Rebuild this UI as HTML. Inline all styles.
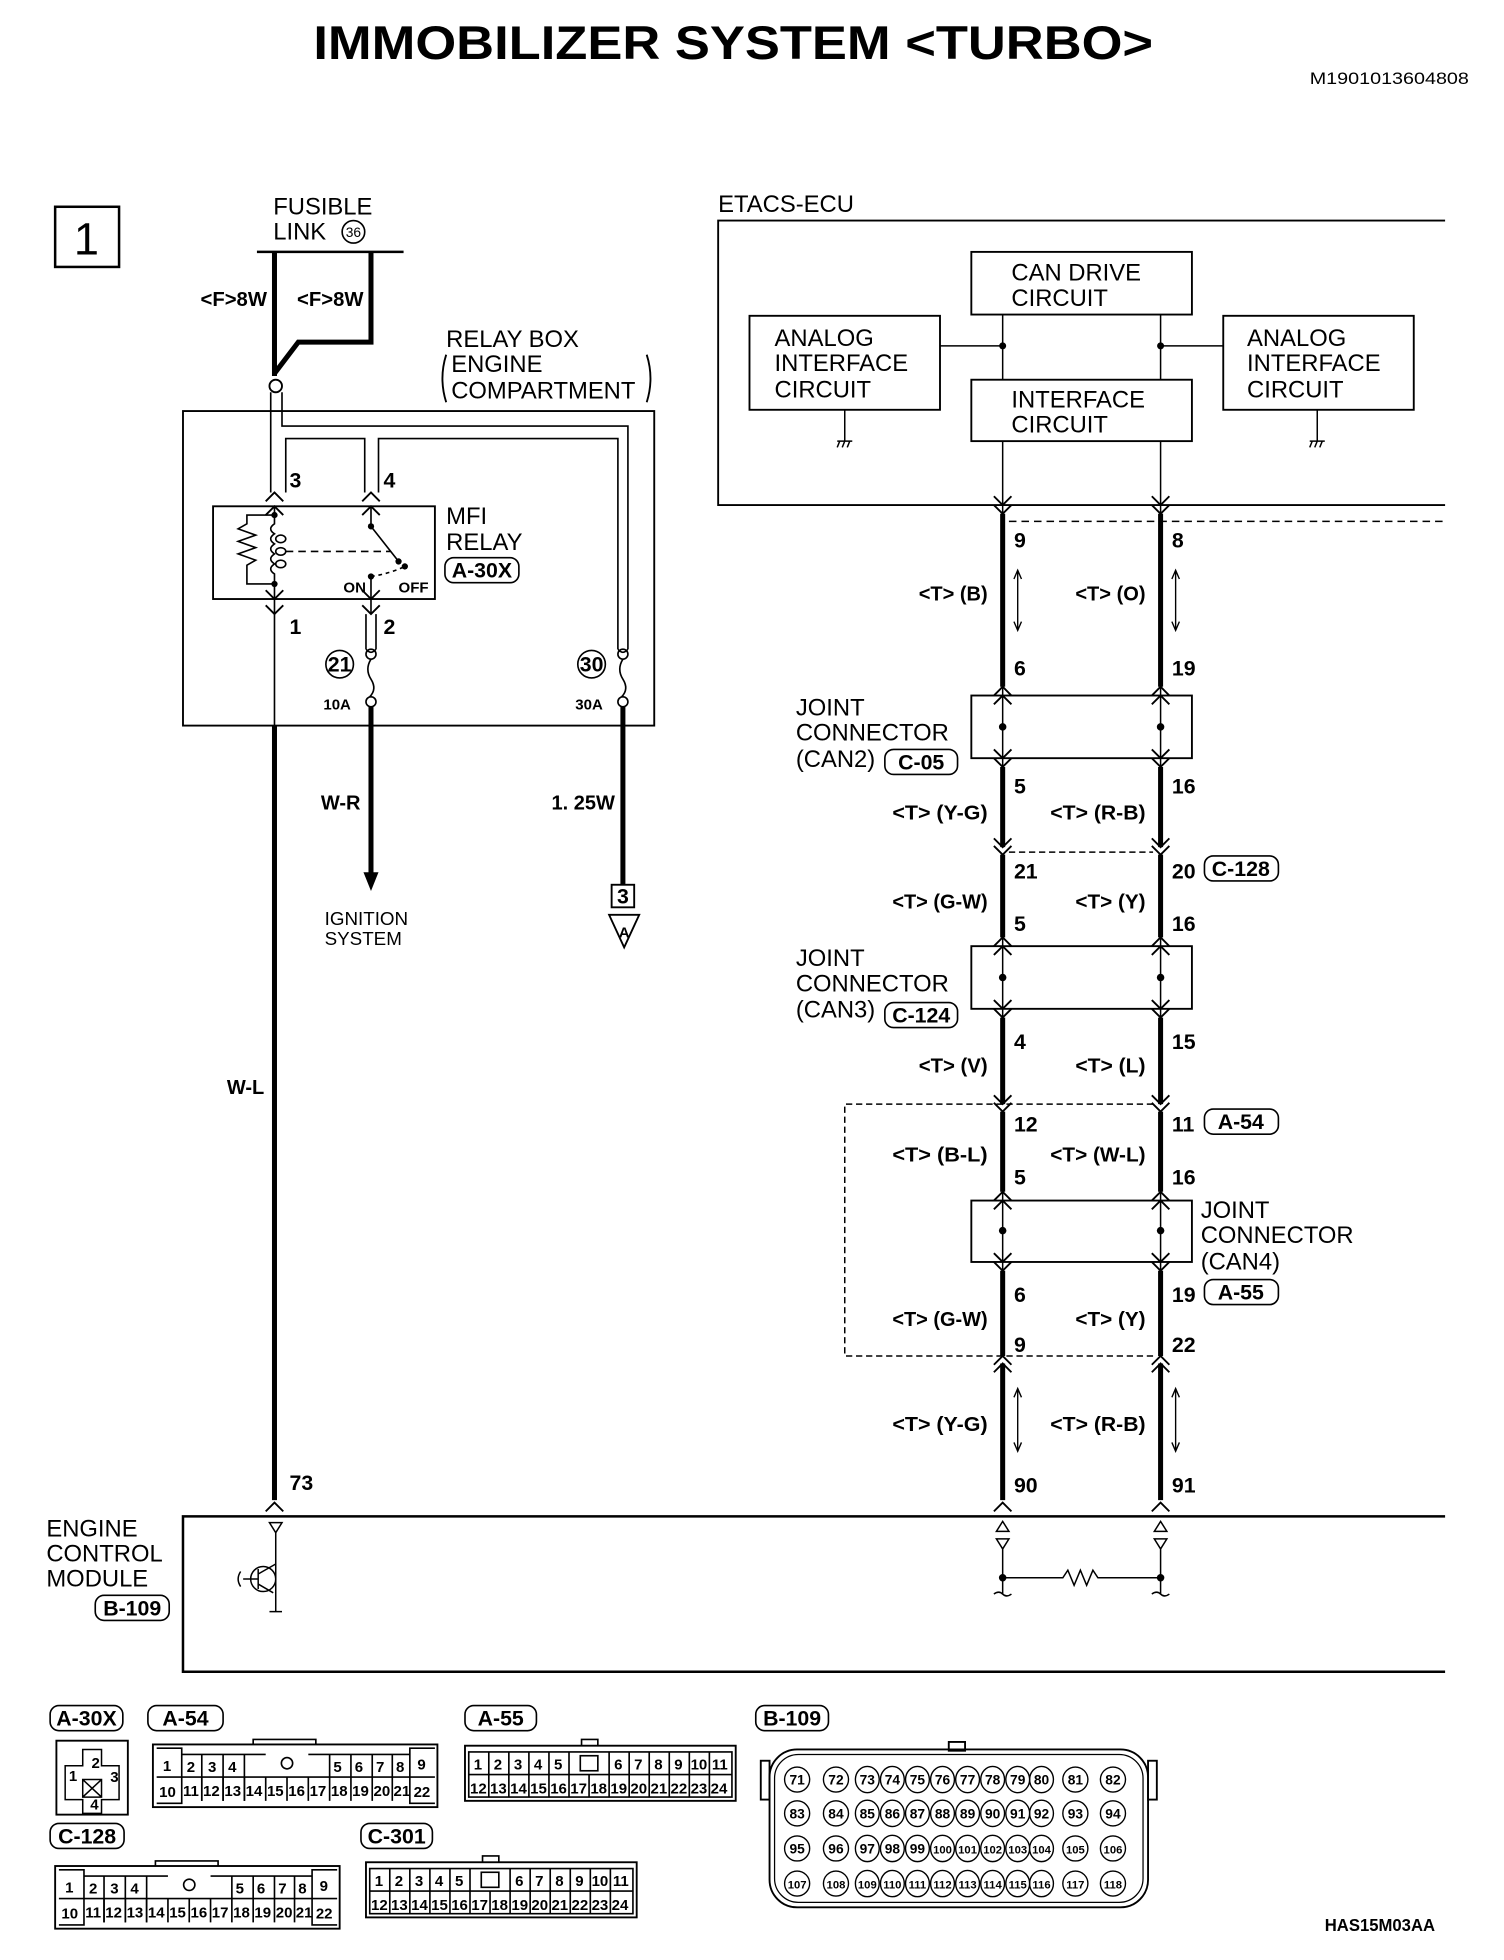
<!DOCTYPE html>
<html><head><meta charset="utf-8"><style>
html,body{margin:0;padding:0;background:#fff;}
svg{display:block;}
text{font-family:"Liberation Sans",sans-serif;fill:#000;}
.b{font-weight:bold;}
.n{font-size:19px;}
.w{font-size:16px;font-weight:bold;}
.p{font-size:17px;font-weight:bold;}
.s{font-size:12px;font-weight:bold;}
</style></head><body>
<svg width="1504" height="1960" viewBox="0 0 1200 1564" preserveAspectRatio="none" xmlns="http://www.w3.org/2000/svg">
<defs>
<path id="cu" d="M-7,7 L0,0 L7,7" fill="none" stroke="#000" stroke-width="1.5"/>
<path id="cd" d="M-7,-7 L0,0 L7,-7" fill="none" stroke="#000" stroke-width="1.5"/>
<g id="brow" fill="none" stroke="#000" stroke-width="1.1">
<circle cx="636" cy="0" r="10"/><circle cx="667" cy="0" r="10"/>
<ellipse cx="692" cy="0" rx="9.5" ry="10.5"/><ellipse cx="712" cy="0" rx="9.5" ry="10.5"/><ellipse cx="732" cy="0" rx="9.5" ry="10.5"/><ellipse cx="752" cy="0" rx="9.5" ry="10.5"/><ellipse cx="772" cy="0" rx="9.5" ry="10.5"/><ellipse cx="792" cy="0" rx="9.5" ry="10.5"/><ellipse cx="812" cy="0" rx="9.5" ry="10.5"/><ellipse cx="831" cy="0" rx="9.5" ry="10.5"/>
<circle cx="858" cy="0" r="10"/><circle cx="888" cy="0" r="10"/>
</g>
</defs>
<text x="250" y="47" class="b" font-size="38" textLength="670" lengthAdjust="spacingAndGlyphs">IMMOBILIZER SYSTEM &lt;TURBO&gt;</text>
<text x="1045" y="67" font-size="13" textLength="127" lengthAdjust="spacingAndGlyphs">M1901013604808</text>

<rect x="44" y="165" width="51" height="48" fill="none" stroke="#000" stroke-width="2"/>
<text x="69" y="203" font-size="36" text-anchor="middle">1</text>

<text x="218" y="171" class="n">FUSIBLE</text>
<text x="218" y="191" class="n">LINK</text>
<circle cx="282" cy="185" r="9" fill="none" stroke="#000" stroke-width="1.3"/>
<text x="282" y="189" font-size="11" text-anchor="middle">36</text>
<line x1="205" y1="201" x2="322" y2="201" stroke="#000" stroke-width="2"/>
<path d="M219,201 V300 M296,201 V273 H238 L219,298" fill="none" stroke="#000" stroke-width="4"/>
<text x="160" y="244" class="w" textLength="53" lengthAdjust="spacingAndGlyphs">&lt;F&gt;8W</text>
<text x="237" y="244" class="w" textLength="53" lengthAdjust="spacingAndGlyphs">&lt;F&gt;8W</text>
<circle cx="220" cy="308" r="5" fill="#fff" stroke="#000" stroke-width="1.5"/>

<text x="356" y="277" class="n">RELAY BOX</text>
<text x="360" y="297" class="n">ENGINE</text>
<text x="360" y="318" class="n">COMPARTMENT</text>
<path d="M356,283 Q350,302 356,321 M516,283 Q522,302 516,321" fill="none" stroke="#000" stroke-width="1.5"/>

<rect x="146" y="328" width="376" height="251" fill="none" stroke="#000" stroke-width="1.5"/>
<g fill="none" stroke="#000" stroke-width="1.3">
<path d="M216,313 V393"/>
<path d="M225,313 V340 H501 V518"/>
<path d="M228,393 V350 H291 V393"/>
<path d="M302,393 V350 H493 V518"/>
<path d="M493,518 Q497,523 501,518"/>
</g>
<use href="#cu" x="219" y="393"/><use href="#cu" x="219" y="404"/>
<use href="#cu" x="296" y="393"/><use href="#cu" x="296" y="404"/>
<text x="231" y="389" class="p">3</text>
<text x="306" y="389" class="p">4</text>
<rect x="170" y="404" width="177" height="74" fill="none" stroke="#000" stroke-width="1.5"/>
<g fill="none" stroke="#000" stroke-width="1.3">
<path d="M219,404 V411 M219,466 V490"/>
<path d="M219,411 H197 V418 l-7,4 l14,5 l-14,5 l14,5 l-14,5 l14,5 l-7,4 V466 H219"/>
<path d="M219,411 V418 q-6,4 0,8 q-6,4 0,8 q-6,4 0,8 q-6,4 0,8 q-6,4 0,8 V466"/>
<ellipse cx="224" cy="430" rx="4" ry="3"/><ellipse cx="224" cy="440" rx="4" ry="3"/><ellipse cx="224" cy="450" rx="4" ry="3"/>
<path d="M228,440 H312" stroke-dasharray="6,4"/>
<path d="M296,404 V420 L318,448"/>
<path d="M296,460 Q310,458 323,452" stroke-dasharray="3,3"/>
<path d="M296,460 V490"/>
</g>
<circle cx="219" cy="411" r="2.5"/><circle cx="219" cy="466" r="2.5"/>
<circle cx="296" cy="420" r="2.5"/><circle cx="318" cy="448" r="2.5"/><circle cx="323" cy="452" r="2.5"/><circle cx="296" cy="460" r="2.5"/>
<text x="274" y="473" class="s" font-size="14">ON</text>
<text x="318" y="473" class="s" font-size="14">OFF</text>
<text x="356" y="418" class="n">MFI</text>
<text x="356" y="439" class="n">RELAY</text>
<rect x="355" y="445" width="59" height="20" rx="7" fill="none" stroke="#000" stroke-width="1.3"/>
<text x="384.5" y="461" class="p" font-size="15" text-anchor="middle">A-30X</text>
<use href="#cd" x="219" y="478"/><use href="#cd" x="219" y="490"/>
<use href="#cd" x="296" y="478"/><use href="#cd" x="296" y="490"/>
<text x="231" y="506" class="p">1</text>
<text x="306" y="506" class="p">2</text>
<g fill="none" stroke="#000" stroke-width="1.3">
<path d="M292,490 V518 M300,490 V518 M292,518 Q296,523 300,518"/>
<circle cx="296" cy="522" r="4"/><circle cx="296" cy="560" r="4"/>
<path d="M296,526 q-5,8 0,16 q5,8 -1,14"/>
<circle cx="497" cy="522" r="4"/><circle cx="497" cy="560" r="4"/>
<path d="M497,526 q-5,8 0,16 q5,8 -1,14"/>
<circle cx="271" cy="530" r="11"/><circle cx="472" cy="530" r="11"/>
<path d="M219,490 V579"/>
</g>
<text x="271" y="536" class="p" font-size="15" text-anchor="middle">21</text>
<text x="472" y="536" class="p" font-size="15" text-anchor="middle">30</text>
<text x="258" y="566" class="s" font-size="14">10A</text>
<text x="459" y="566" class="s" font-size="14">30A</text>

<path d="M219,579 V1197 M296,564 V697 M497,564 V706" fill="none" stroke="#000" stroke-width="4"/>
<path d="M290,696 L302,696 L296,711 Z" fill="#000"/>
<text x="256" y="646" class="w">W-R</text>
<text x="440" y="646" class="w">1. 25W</text>
<text x="259" y="738" font-size="15">IGNITION</text>
<text x="259" y="754" font-size="15">SYSTEM</text>
<rect x="488" y="706" width="18" height="18" fill="none" stroke="#000" stroke-width="1.5"/>
<text x="497" y="721" class="p" font-size="15" text-anchor="middle">3</text>
<path d="M486,730 H510 L498,756 Z" fill="none" stroke="#000" stroke-width="1.5"/>
<text x="498" y="748" class="s" font-size="12" text-anchor="middle">A</text>
<text x="181" y="873" class="w">W-L</text>
<use href="#cu" x="219" y="1199"/>
<text x="231" y="1189" class="p">73</text>

<text x="573" y="169" class="n">ETACS-ECU</text>
<path d="M1153,176 H573 V403 H1153" fill="none" stroke="#000" stroke-width="1.5"/>
<g fill="none" stroke="#000" stroke-width="1.5">
<rect x="775" y="201" width="176" height="50"/>
<rect x="775" y="303" width="176" height="49"/>
<rect x="598" y="252" width="152" height="75"/>
<rect x="976" y="252" width="152" height="75"/>
</g>
<g fill="none" stroke="#000" stroke-width="1.2">
<path d="M800,251 V303 M926,251 V303 M750,276 H800 M926,276 H976 M674,327 V352 M1051,327 V352"/>
<path d="M668,352 H680 M670,352 l-2,5 M674,352 l-2,5 M678,352 l-2,5 M1045,352 H1057 M1047,352 l-2,5 M1051,352 l-2,5 M1055,352 l-2,5"/>
<path d="M800,352 V410 M926,352 V410"/>
</g>
<circle cx="800" cy="276" r="2.8"/><circle cx="926" cy="276" r="2.8"/>
<text x="807" y="224" class="n">CAN DRIVE</text><text x="807" y="244" class="n">CIRCUIT</text>
<text x="807" y="325" class="n">INTERFACE</text><text x="807" y="345" class="n">CIRCUIT</text>
<text x="618" y="276" class="n">ANALOG</text><text x="618" y="296" class="n">INTERFACE</text><text x="618" y="317" class="n">CIRCUIT</text>
<text x="995" y="276" class="n">ANALOG</text><text x="995" y="296" class="n">INTERFACE</text><text x="995" y="317" class="n">CIRCUIT</text>

<g fill="none" stroke="#000" stroke-width="4">
<path d="M800,410 V548 M926,410 V548"/>
<path d="M800,612 V676 M926,612 V676"/>
<path d="M800,682 V748 M926,682 V748"/>
<path d="M800,812 V881 M926,812 V881"/>
<path d="M800,887 V951 M926,887 V951"/>
<path d="M800,1014 V1082 M926,1014 V1082"/>
<path d="M800,1088 V1197 M926,1088 V1197"/>
</g>
<g fill="none" stroke="#000" stroke-width="1.2">
<path d="M800,548 V612 M926,548 V612 M800,748 V812 M926,748 V812 M800,951 V1014 M926,951 V1014"/>
<path d="M805,416 H1153" stroke-dasharray="6,4"/>
<path d="M805,680 H920" stroke-dasharray="5,3"/>
<path d="M920,881 H674 V1082 H920" stroke-dasharray="5,3"/>
<rect x="775" y="555" width="176" height="50" stroke-width="1.5"/>
<rect x="775" y="755" width="176" height="50" stroke-width="1.5"/>
<rect x="775" y="958" width="176" height="49" stroke-width="1.5"/>
</g>
<g>
<use href="#cd" x="800" y="403"/><use href="#cd" x="800" y="410"/><use href="#cd" x="926" y="403"/><use href="#cd" x="926" y="410"/>
<use href="#cu" x="800" y="548"/><use href="#cu" x="800" y="555"/><use href="#cu" x="926" y="548"/><use href="#cu" x="926" y="555"/>
<use href="#cd" x="800" y="605"/><use href="#cd" x="800" y="612"/><use href="#cd" x="926" y="605"/><use href="#cd" x="926" y="612"/>
<use href="#cd" x="800" y="676"/><use href="#cd" x="800" y="682"/><use href="#cd" x="926" y="676"/><use href="#cd" x="926" y="682"/>
<use href="#cu" x="800" y="748"/><use href="#cu" x="800" y="755"/><use href="#cu" x="926" y="748"/><use href="#cu" x="926" y="755"/>
<use href="#cd" x="800" y="805"/><use href="#cd" x="800" y="812"/><use href="#cd" x="926" y="805"/><use href="#cd" x="926" y="812"/>
<use href="#cd" x="800" y="881"/><use href="#cd" x="800" y="887"/><use href="#cd" x="926" y="881"/><use href="#cd" x="926" y="887"/>
<use href="#cu" x="800" y="951"/><use href="#cu" x="800" y="958"/><use href="#cu" x="926" y="951"/><use href="#cu" x="926" y="958"/>
<use href="#cd" x="800" y="1007"/><use href="#cd" x="800" y="1014"/><use href="#cd" x="926" y="1007"/><use href="#cd" x="926" y="1014"/>
<use href="#cu" x="800" y="1082"/><use href="#cu" x="800" y="1088"/><use href="#cu" x="926" y="1082"/><use href="#cu" x="926" y="1088"/>
<use href="#cu" x="800" y="1199"/><use href="#cu" x="926" y="1199"/>
</g>
<circle cx="800" cy="580" r="3"/><circle cx="926" cy="580" r="3"/>
<circle cx="800" cy="780" r="3"/><circle cx="926" cy="780" r="3"/>
<circle cx="800" cy="982" r="3"/><circle cx="926" cy="982" r="3"/>
<g fill="none" stroke="#000" stroke-width="1.1">
<path d="M812,455 V503 M809,462 L812,455 L815,462 M809,496 L812,503 L815,496"/>
<path d="M938,455 V503 M935,462 L938,455 L941,462 M935,496 L938,503 L941,496"/>
<path d="M812,1108 V1158 M809,1115 L812,1108 L815,1115 M809,1151 L812,1158 L815,1151"/>
<path d="M938,1108 V1158 M935,1115 L938,1108 L941,1115 M935,1151 L938,1158 L941,1151"/>
</g>
<g>
<text x="809" y="437" class="p">9</text><text x="935" y="437" class="p">8</text>
<text x="809" y="539" class="p">6</text><text x="935" y="539" class="p">19</text>
<text x="809" y="633" class="p">5</text><text x="935" y="633" class="p">16</text>
<text x="809" y="701" class="p">21</text><text x="935" y="701" class="p">20</text>
<text x="809" y="743" class="p">5</text><text x="935" y="743" class="p">16</text>
<text x="809" y="837" class="p">4</text><text x="935" y="837" class="p">15</text>
<text x="809" y="903" class="p">12</text><text x="935" y="903" class="p">11</text>
<text x="809" y="945" class="p">5</text><text x="935" y="945" class="p">16</text>
<text x="809" y="1039" class="p">6</text><text x="935" y="1039" class="p">19</text>
<text x="809" y="1079" class="p">9</text><text x="935" y="1079" class="p">22</text>
<text x="809" y="1191" class="p">90</text><text x="935" y="1191" class="p">91</text>
</g>
<g>
<text x="788" y="479" class="w" text-anchor="end" textLength="55" lengthAdjust="spacingAndGlyphs">&lt;T&gt; (B)</text>
<text x="914" y="479" class="w" text-anchor="end" textLength="56" lengthAdjust="spacingAndGlyphs">&lt;T&gt; (O)</text>
<text x="788" y="654" class="w" text-anchor="end" textLength="76" lengthAdjust="spacingAndGlyphs">&lt;T&gt; (Y-G)</text>
<text x="914" y="654" class="w" text-anchor="end" textLength="76" lengthAdjust="spacingAndGlyphs">&lt;T&gt; (R-B)</text>
<text x="788" y="725" class="w" text-anchor="end" textLength="76" lengthAdjust="spacingAndGlyphs">&lt;T&gt; (G-W)</text>
<text x="914" y="725" class="w" text-anchor="end" textLength="56" lengthAdjust="spacingAndGlyphs">&lt;T&gt; (Y)</text>
<text x="788" y="856" class="w" text-anchor="end" textLength="55" lengthAdjust="spacingAndGlyphs">&lt;T&gt; (V)</text>
<text x="914" y="856" class="w" text-anchor="end" textLength="56" lengthAdjust="spacingAndGlyphs">&lt;T&gt; (L)</text>
<text x="788" y="927" class="w" text-anchor="end" textLength="76" lengthAdjust="spacingAndGlyphs">&lt;T&gt; (B-L)</text>
<text x="914" y="927" class="w" text-anchor="end" textLength="76" lengthAdjust="spacingAndGlyphs">&lt;T&gt; (W-L)</text>
<text x="788" y="1058" class="w" text-anchor="end" textLength="76" lengthAdjust="spacingAndGlyphs">&lt;T&gt; (G-W)</text>
<text x="914" y="1058" class="w" text-anchor="end" textLength="56" lengthAdjust="spacingAndGlyphs">&lt;T&gt; (Y)</text>
<text x="788" y="1142" class="w" text-anchor="end" textLength="76" lengthAdjust="spacingAndGlyphs">&lt;T&gt; (Y-G)</text>
<text x="914" y="1142" class="w" text-anchor="end" textLength="76" lengthAdjust="spacingAndGlyphs">&lt;T&gt; (R-B)</text>
</g>
<text x="635" y="571" class="n">JOINT</text><text x="635" y="591" class="n">CONNECTOR</text><text x="635" y="612" class="n">(CAN2)</text>
<text x="635" y="771" class="n">JOINT</text><text x="635" y="791" class="n">CONNECTOR</text><text x="635" y="812" class="n">(CAN3)</text>
<text x="958" y="972" class="n">JOINT</text><text x="958" y="992" class="n">CONNECTOR</text><text x="958" y="1013" class="n">(CAN4)</text>
<g fill="none" stroke="#000" stroke-width="1.3">
<rect x="706" y="598" width="58" height="20" rx="7"/>
<rect x="706" y="800" width="58" height="20" rx="7"/>
<rect x="961" y="683" width="59" height="20" rx="7"/>
<rect x="961" y="885" width="59" height="20" rx="7"/>
<rect x="961" y="1021" width="59" height="20" rx="7"/>
</g>
<text x="735" y="614" class="p" font-size="15" text-anchor="middle">C-05</text>
<text x="735" y="816" class="p" font-size="15" text-anchor="middle">C-124</text>
<text x="990" y="699" class="p" font-size="15" text-anchor="middle">C-128</text>
<text x="990" y="901" class="p" font-size="15" text-anchor="middle">A-54</text>
<text x="990" y="1037" class="p" font-size="15" text-anchor="middle">A-55</text>

<path d="M1153,1210 H146 V1334 H1153" fill="none" stroke="#000" stroke-width="2"/>
<text x="37" y="1226" class="n">ENGINE</text><text x="37" y="1246" class="n">CONTROL</text><text x="37" y="1266" class="n">MODULE</text>
<rect x="76" y="1273" width="59" height="20" rx="7" fill="none" stroke="#000" stroke-width="1.3"/>
<text x="105.5" y="1289" class="p" font-size="15" text-anchor="middle">B-109</text>
<g fill="none" stroke="#000" stroke-width="1.2">
<path d="M215,1215 H225 L220,1223 Z"/>
<path d="M220,1223 V1286 M215,1286 H225"/>
<circle cx="210" cy="1260" r="10"/>
<path d="M194,1260 H206 M206,1252 V1268 M206,1256 L220,1248 M206,1264 L218,1271"/>
<path d="M192,1254 q-4,6 0,12"/>
<path d="M795,1222 L800,1214 L805,1222 Z M795,1228 H805 L800,1236 Z M800,1236 V1272"/>
<path d="M921,1222 L926,1214 L931,1222 Z M921,1228 H931 L926,1236 Z M926,1236 V1272"/>
<path d="M800,1259 H848 l4,-6 l5,12 l5,-12 l5,12 l5,-12 l4,6 H926"/>
<path d="M793,1272 q4,-3 7,0 q3,3 7,0 M919,1272 q4,-3 7,0 q3,3 7,0"/>
</g>
<circle cx="800" cy="1259" r="3"/><circle cx="926" cy="1259" r="3"/>

<g fill="none" stroke="#000" stroke-width="1.3">
<rect x="40" y="1361" width="58" height="20" rx="7"/>
<rect x="118" y="1361" width="60" height="20" rx="7"/>
<rect x="371" y="1361" width="57" height="20" rx="7"/>
<rect x="603" y="1361" width="58" height="20" rx="7"/>
<rect x="40" y="1455" width="59" height="20" rx="7"/>
<rect x="288" y="1455" width="57" height="20" rx="7"/>
</g>
<text x="69" y="1377" class="p" font-size="15" text-anchor="middle">A-30X</text>
<text x="148" y="1377" class="p" font-size="15" text-anchor="middle">A-54</text>
<text x="399.5" y="1377" class="p" font-size="15" text-anchor="middle">A-55</text>
<text x="632" y="1377" class="p" font-size="15" text-anchor="middle">B-109</text>
<text x="69.5" y="1471" class="p" font-size="15" text-anchor="middle">C-128</text>
<text x="316.5" y="1471" class="p" font-size="15" text-anchor="middle">C-301</text>

<g fill="none" stroke="#000" stroke-width="1.5">
<rect x="45" y="1389" width="57" height="59"/>
<path d="M52,1409 H66 V1396 H81 V1409 H95 V1436 H81 V1447 H66 V1436 H52 Z" stroke-width="1.2"/>
<path d="M66,1420 H81 V1434 H66 Z M66,1420 L81,1434 M81,1420 L66,1434" stroke-width="1.2"/>
</g>
<text x="73" y="1411" class="s">2</text><text x="55" y="1421" class="s">1</text><text x="88" y="1422" class="s">3</text><text x="72" y="1444" class="s">4</text>

<g id="c54" fill="none" stroke="#000" stroke-width="1.3">
<rect x="122" y="1392" width="227" height="50" stroke-width="1.5"/>
<path d="M125,1418 H347"/>
<path d="M125,1395 H145 V1439 H125 M347,1395 H327 V1439 H347"/>
<path d="M202,1392 V1388 H252 V1392"/>
<circle cx="229" cy="1407" r="4.5"/>
<path d="M161,1400 V1437 M178,1400 V1437 M195,1400 V1418 M195,1418 V1437 M263,1400 V1418 M280,1400 V1418 M297,1400 V1418 M313,1400 V1418"/>
<path d="M161,1418 V1437 M178,1418 V1437 M195,1418 V1437 M212,1418 V1437 M229,1418 V1437 M246,1418 V1437 M263,1418 V1437 M280,1418 V1437 M297,1418 V1437 M313,1418 V1437"/>
<path d="M145,1400 H212 M246,1400 H327"/>
</g>
<g id="t54">
<text x="130" y="1413" class="s">1</text><text x="149" y="1414" class="s">2</text><text x="166" y="1414" class="s">3</text><text x="182" y="1414" class="s">4</text>
<text x="266" y="1414" class="s">5</text><text x="283" y="1414" class="s">6</text><text x="300" y="1414" class="s">7</text><text x="316" y="1414" class="s">8</text><text x="333" y="1412" class="s">9</text>
<text x="127" y="1434" class="s">10</text><text x="146" y="1433" class="s">11</text><text x="162" y="1433" class="s">12</text><text x="179" y="1433" class="s">13</text><text x="196" y="1433" class="s">14</text><text x="213" y="1433" class="s">15</text><text x="230" y="1433" class="s">16</text><text x="247" y="1433" class="s">17</text><text x="264" y="1433" class="s">18</text><text x="281" y="1433" class="s">19</text><text x="298" y="1433" class="s">20</text><text x="314" y="1433" class="s">21</text><text x="330" y="1434" class="s">22</text>
</g>
<g transform="translate(-78,97)">
<use href="#c54"/>
<text x="130" y="1413" class="s">1</text><text x="149" y="1414" class="s">2</text><text x="166" y="1414" class="s">3</text><text x="182" y="1414" class="s">4</text>
<text x="266" y="1414" class="s">5</text><text x="283" y="1414" class="s">6</text><text x="300" y="1414" class="s">7</text><text x="316" y="1414" class="s">8</text><text x="333" y="1412" class="s">9</text>
<text x="127" y="1434" class="s">10</text><text x="146" y="1433" class="s">11</text><text x="162" y="1433" class="s">12</text><text x="179" y="1433" class="s">13</text><text x="196" y="1433" class="s">14</text><text x="213" y="1433" class="s">15</text><text x="230" y="1433" class="s">16</text><text x="247" y="1433" class="s">17</text><text x="264" y="1433" class="s">18</text><text x="281" y="1433" class="s">19</text><text x="298" y="1433" class="s">20</text><text x="314" y="1433" class="s">21</text><text x="330" y="1434" class="s">22</text>
</g>

<g id="c55fig" fill="none" stroke="#000" stroke-width="1.3">
<rect x="371" y="1393" width="216" height="44" stroke-width="1.5"/>
<path d="M374,1398 H584 V1434 H374 Z"/>
<path d="M374,1416 H584"/>
<path d="M464,1393 V1388 H477 V1393"/>
<rect x="463" y="1401" width="14" height="12"/>
<path d="M390,1398 V1434 M406,1398 V1434 M422,1398 V1434 M438,1398 V1434 M454,1398 V1434 M470,1416 V1434 M486,1398 V1434 M502,1398 V1434 M518,1398 V1434 M534,1398 V1434 M550,1398 V1434 M566,1398 V1434"/>
</g>
<g>
<text x="378" y="1412" class="s">1</text><text x="394" y="1412" class="s">2</text><text x="410" y="1412" class="s">3</text><text x="426" y="1412" class="s">4</text><text x="442" y="1412" class="s">5</text>
<text x="490" y="1412" class="s">6</text><text x="506" y="1412" class="s">7</text><text x="522" y="1412" class="s">8</text><text x="538" y="1412" class="s">9</text><text x="551" y="1412" class="s">10</text><text x="568" y="1412" class="s">11</text>
<text x="375" y="1431" class="s">12</text><text x="391" y="1431" class="s">13</text><text x="407" y="1431" class="s">14</text><text x="423" y="1431" class="s">15</text><text x="439" y="1431" class="s">16</text><text x="455" y="1431" class="s">17</text><text x="471" y="1431" class="s">18</text><text x="487" y="1431" class="s">19</text><text x="503" y="1431" class="s">20</text><text x="519" y="1431" class="s">21</text><text x="535" y="1431" class="s">22</text><text x="551" y="1431" class="s">23</text><text x="567" y="1431" class="s">24</text>
</g>
<g transform="translate(-79,93)">
<use href="#c55fig"/>
<text x="378" y="1412" class="s">1</text><text x="394" y="1412" class="s">2</text><text x="410" y="1412" class="s">3</text><text x="426" y="1412" class="s">4</text><text x="442" y="1412" class="s">5</text>
<text x="490" y="1412" class="s">6</text><text x="506" y="1412" class="s">7</text><text x="522" y="1412" class="s">8</text><text x="538" y="1412" class="s">9</text><text x="551" y="1412" class="s">10</text><text x="568" y="1412" class="s">11</text>
<text x="375" y="1431" class="s">12</text><text x="391" y="1431" class="s">13</text><text x="407" y="1431" class="s">14</text><text x="423" y="1431" class="s">15</text><text x="439" y="1431" class="s">16</text><text x="455" y="1431" class="s">17</text><text x="471" y="1431" class="s">18</text><text x="487" y="1431" class="s">19</text><text x="503" y="1431" class="s">20</text><text x="519" y="1431" class="s">21</text><text x="535" y="1431" class="s">22</text><text x="551" y="1431" class="s">23</text><text x="567" y="1431" class="s">24</text>
</g>

<g fill="none" stroke="#000" stroke-width="1.5">
<rect x="614" y="1396" width="302" height="126" rx="22"/>
<rect x="618" y="1400" width="294" height="118" rx="19" stroke-width="1"/>
<rect x="757" y="1390" width="13" height="7"/>
<rect x="607" y="1405" width="7" height="31"/>
<rect x="916" y="1405" width="7" height="31"/>
</g>
<use href="#brow" y="1420"/><use href="#brow" y="1447"/><use href="#brow" y="1475"/><use href="#brow" y="1503"/>
<g>
<text x="636" y="1424" font-size="11" text-anchor="middle" class="b">71</text><text x="667" y="1424" font-size="11" text-anchor="middle" class="b">72</text><text x="692" y="1424" font-size="11" text-anchor="middle" class="b">73</text><text x="712" y="1424" font-size="11" text-anchor="middle" class="b">74</text><text x="732" y="1424" font-size="11" text-anchor="middle" class="b">75</text><text x="752" y="1424" font-size="11" text-anchor="middle" class="b">76</text><text x="772" y="1424" font-size="11" text-anchor="middle" class="b">77</text><text x="792" y="1424" font-size="11" text-anchor="middle" class="b">78</text><text x="812" y="1424" font-size="11" text-anchor="middle" class="b">79</text><text x="831" y="1424" font-size="11" text-anchor="middle" class="b">80</text><text x="858" y="1424" font-size="11" text-anchor="middle" class="b">81</text><text x="888" y="1424" font-size="11" text-anchor="middle" class="b">82</text>
<text x="636" y="1451" font-size="11" text-anchor="middle" class="b">83</text><text x="667" y="1451" font-size="11" text-anchor="middle" class="b">84</text><text x="692" y="1451" font-size="11" text-anchor="middle" class="b">85</text><text x="712" y="1451" font-size="11" text-anchor="middle" class="b">86</text><text x="732" y="1451" font-size="11" text-anchor="middle" class="b">87</text><text x="752" y="1451" font-size="11" text-anchor="middle" class="b">88</text><text x="772" y="1451" font-size="11" text-anchor="middle" class="b">89</text><text x="792" y="1451" font-size="11" text-anchor="middle" class="b">90</text><text x="812" y="1451" font-size="11" text-anchor="middle" class="b">91</text><text x="831" y="1451" font-size="11" text-anchor="middle" class="b">92</text><text x="858" y="1451" font-size="11" text-anchor="middle" class="b">93</text><text x="888" y="1451" font-size="11" text-anchor="middle" class="b">94</text>
<text x="636" y="1479" font-size="11" text-anchor="middle" class="b">95</text><text x="667" y="1479" font-size="11" text-anchor="middle" class="b">96</text><text x="692" y="1479" font-size="11" text-anchor="middle" class="b">97</text><text x="712" y="1479" font-size="11" text-anchor="middle" class="b">98</text><text x="732" y="1479" font-size="11" text-anchor="middle" class="b">99</text><text x="752" y="1479" font-size="9" text-anchor="middle" class="b">100</text><text x="772" y="1479" font-size="9" text-anchor="middle" class="b">101</text><text x="792" y="1479" font-size="9" text-anchor="middle" class="b">102</text><text x="812" y="1479" font-size="9" text-anchor="middle" class="b">103</text><text x="831" y="1479" font-size="9" text-anchor="middle" class="b">104</text><text x="858" y="1479" font-size="9" text-anchor="middle" class="b">105</text><text x="888" y="1479" font-size="9" text-anchor="middle" class="b">106</text>
<text x="636" y="1507" font-size="9" text-anchor="middle" class="b">107</text><text x="667" y="1507" font-size="9" text-anchor="middle" class="b">108</text><text x="692" y="1507" font-size="9" text-anchor="middle" class="b">109</text><text x="712" y="1507" font-size="9" text-anchor="middle" class="b">110</text><text x="732" y="1507" font-size="9" text-anchor="middle" class="b">111</text><text x="752" y="1507" font-size="9" text-anchor="middle" class="b">112</text><text x="772" y="1507" font-size="9" text-anchor="middle" class="b">113</text><text x="792" y="1507" font-size="9" text-anchor="middle" class="b">114</text><text x="812" y="1507" font-size="9" text-anchor="middle" class="b">115</text><text x="831" y="1507" font-size="9" text-anchor="middle" class="b">116</text><text x="858" y="1507" font-size="9" text-anchor="middle" class="b">117</text><text x="888" y="1507" font-size="9" text-anchor="middle" class="b">118</text>
</g>

<text x="1057" y="1541" class="b" font-size="14" textLength="88" lengthAdjust="spacingAndGlyphs">HAS15M03AA</text>
</svg>
</body></html>
